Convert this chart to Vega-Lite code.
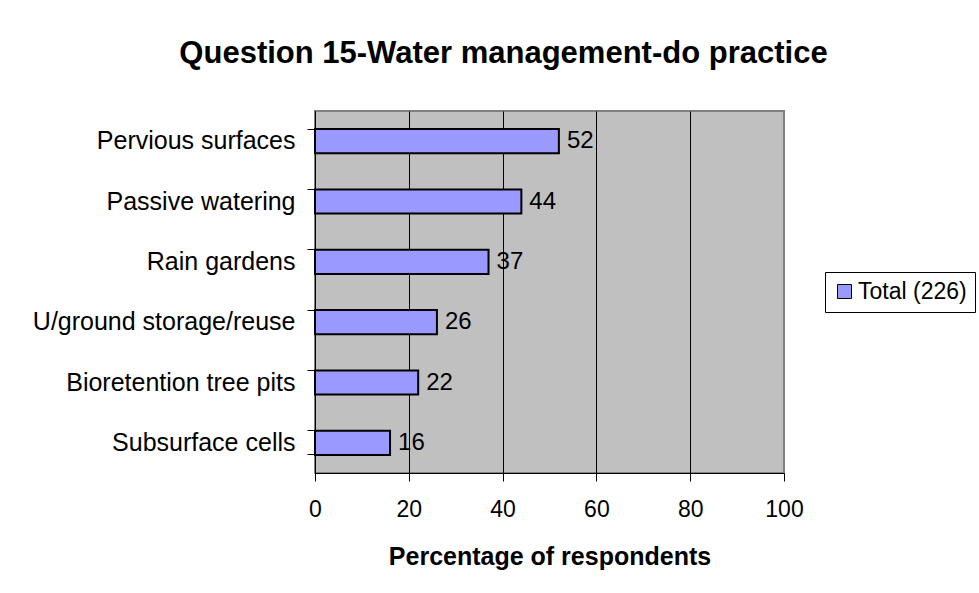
{
  "$schema": "https://vega.github.io/schema/vega-lite/v6.json",
  "width": 469,
  "height": 362,
  "autosize": {"type": "none"},
  "padding": {"left": 315, "top": 111, "right": 195, "bottom": 120},
  "background": "white",
  "title": {
    "text": "Question 15-Water management-do practice",
    "font": "Liberation Sans",
    "fontSize": 31,
    "fontWeight": "bold",
    "color": "black",
    "anchor": "middle",
    "dx": -46,
    "offset": 41
  },
  "data": {
    "values": [
      {"practice": "Pervious surfaces", "pct": 52},
      {"practice": "Passive watering", "pct": 44},
      {"practice": "Rain gardens", "pct": 37},
      {"practice": "U/ground storage/reuse", "pct": 26},
      {"practice": "Bioretention tree pits", "pct": 22},
      {"practice": "Subsurface cells", "pct": 16}
    ]
  },
  "encoding": {
    "y": {
      "field": "practice",
      "type": "nominal",
      "sort": null,
      "scale": {"paddingInner": 0.6, "paddingOuter": 0.3},
      "axis": {
        "title": null,
        "bandPosition": 0,
        "labelFont": "Liberation Sans",
        "labelFontSize": 25,
        "labelColor": "black",
        "labelPadding": 12,
        "labelLimit": 400,
        "tickSize": 8,
        "tickColor": "black",
        "domainColor": "black",
        "grid": false
      }
    },
    "x": {
      "field": "pct",
      "type": "quantitative",
      "scale": {"domain": [0, 100], "nice": false},
      "axis": {
        "title": "Percentage of respondents",
        "titleFont": "Liberation Sans",
        "titleFontSize": 25,
        "titleFontWeight": "bold",
        "titleColor": "black",
        "titlePadding": 23,
        "values": [0, 20, 40, 60, 80, 100],
        "labelFont": "Liberation Sans",
        "labelFontSize": 23,
        "labelColor": "black",
        "labelPadding": 17,
        "labelFlush": false,
        "tickSize": 8,
        "tickColor": "black",
        "domainColor": "black",
        "grid": true,
        "gridColor": {"condition": {"test": "datum.value === 100", "value": "#808080"}, "value": "black"},
        "gridOpacity": 1,
        "gridWidth": 1
      }
    }
  },
  "layer": [
    {
      "mark": {"type": "bar", "stroke": "black", "strokeWidth": 2},
      "encoding": {
        "color": {
          "datum": "Total (226)",
          "type": "nominal",
          "scale": {"range": ["#9999FF"]},
          "legend": {
            "title": null,
            "orient": "none",
            "legendX": 510,
            "legendY": 161,
            "strokeColor": "black",
            "fillColor": "white",
            "padding": 8,
            "symbolType": "square",
            "symbolSize": 196,
            "symbolStrokeColor": "black",
            "symbolStrokeWidth": 1,
            "symbolOpacity": 1,
            "labelOffset": 2,
            "labelFont": "Liberation Sans",
            "labelFontSize": 23,
            "labelColor": "black",
            "labelLimit": 300
          }
        }
      }
    },
    {
      "mark": {"type": "text", "align": "left", "baseline": "middle", "dx": 8, "font": "Liberation Sans", "fontSize": 24, "color": "black"},
      "encoding": {
        "text": {"field": "pct", "type": "quantitative"},
        "y": {
          "field": "practice",
          "type": "nominal",
          "sort": null,
          "axis": {
            "orient": "left",
            "title": null,
            "bandPosition": 1,
            "values": ["Subsurface cells"],
            "labels": false,
            "domain": false,
            "ticks": true,
            "tickSize": 8,
            "tickColor": "black",
            "grid": false
          }
        }
      }
    }
  ],
  "resolve": {"axis": {"y": "independent"}},
  "config": {
    "view": {"fill": "#C0C0C0", "stroke": "#808080", "strokeWidth": 2}
  }
}
